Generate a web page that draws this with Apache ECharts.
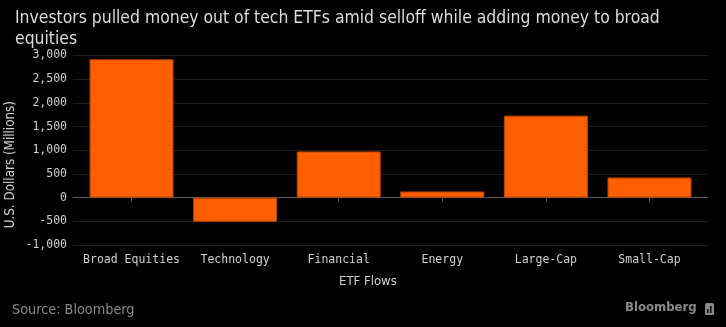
<!DOCTYPE html>
<html>
<head>
<meta charset="utf-8">
<script src="https://cdn.jsdelivr.net/npm/echarts@6/dist/echarts.min.js"></script>
<style>
html,body{margin:0;padding:0;background:#000;}
#c{width:726px;height:327px;}
</style>
</head>
<body>
<div id="c"></div>
<script>
var categories = ["Broad Equities", "Technology", "Financial", "Energy", "Large-Cap", "Small-Cap"];
var flows = [2920, -510, 975, 130, 1730, 425];
var yTicks = [-1000, -500, 0, 500, 1000, 1500, 2000, 2500, 3000];

var chart = echarts.init(document.getElementById('c'), null, {renderer: 'canvas'});
var idx = categories.map(function (_, i) { return i; });
var mono = '"DejaVu Sans Mono", monospace';
var cond = '"DejaVu Sans Condensed", "DejaVu Sans", sans-serif';

chart.setOption({
  backgroundColor: '#000',
  animation: false,
  title: {
    text: 'Investors pulled money out of tech ETFs amid selloff while adding money to broad\nequities',
    left: 10, top: 3,
    textStyle: {color: '#dcdcdc', fontSize: 17.4, fontWeight: 'normal', fontFamily: cond, lineHeight: 21}
  },
  grid: {left: 73, right: 18, top: 55.5, bottom: 82},
  xAxis: {
    type: 'value',
    min: -0.565, max: 5.565,
    axisLine: {show: true, lineStyle: {color: '#5a5a5a', width: 1}},
    axisTick: {show: true, customValues: idx, length: 4, lineStyle: {color: '#5a5a5a'}},
    axisLabel: {
      customValues: idx, color: '#d0d0d0', fontSize: 11.5, fontFamily: mono, margin: 9,
      formatter: function (v) { return categories[Math.round(v)]; }
    },
    splitLine: {show: false}
  },
  yAxis: {
    type: 'value',
    min: yTicks[0], max: yTicks[yTicks.length - 1], interval: 500,
    axisLine: {show: false}, axisTick: {show: false},
    axisLabel: {
      color: '#d0d0d0', fontSize: 11.5, fontFamily: mono, margin: 6,
      formatter: function (v) { return (v < 0 ? '-' : '') + String(Math.abs(v)).replace(/\B(?=(\d{3})+(?!\d))/g, ','); }
    },
    splitLine: {show: true, lineStyle: {color: '#1e1e1e', width: 1}}
  },
  series: [{
    type: 'bar',
    barWidth: 84,
    data: flows.map(function (v, i) { return [i, v]; }),
    itemStyle: {color: '#ff5f00', borderColor: '#b84200', borderWidth: 1}
  }],
  graphic: [
    {type: 'text', left: 4, top: 101, rotation: Math.PI / 2,
     style: {text: 'U.S. Dollars (Millions)', fill: '#d0d0d0', font: '13.3px ' + cond}},
    {type: 'text', left: 339, top: 275,
     style: {text: 'ETF Flows', fill: '#d0d0d0', font: '13px ' + cond}},
    {type: 'text', left: 12, top: 303,
     style: {text: 'Source: Bloomberg', fill: '#8a8a8a', font: '14.3px ' + cond}},
    {type: 'text', left: 625, top: 301,
     style: {text: 'Bloomberg', fill: '#8a8a8a', font: 'bold 13px ' + cond}},
    {type: 'rect', left: 705, top: 303, shape: {width: 9, height: 12, r: 1.5}, style: {fill: '#8a8a8a'}},
    {type: 'rect', left: 707, top: 309, shape: {width: 1.5, height: 4}, style: {fill: '#000'}},
    {type: 'rect', left: 710, top: 306, shape: {width: 1.5, height: 7}, style: {fill: '#000'}}
  ]
});
</script>
</body>
</html>
